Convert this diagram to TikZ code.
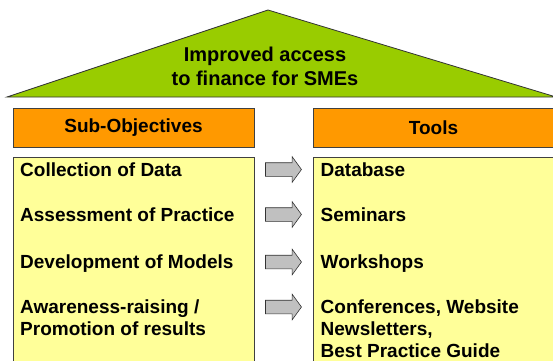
\documentclass[tikz,border=0pt]{standalone}
\usepackage{fontspec}
\setmainfont{Liberation Sans}
\usetikzlibrary{shapes.arrows}
\definecolor{roof}{HTML}{99CC00}
\definecolor{orange}{HTML}{FF9900}
\definecolor{pale}{HTML}{FFFF99}
\definecolor{grey}{HTML}{C0C0C0}

\begin{document}
\begin{tikzpicture}[x=1pt,y=1pt,font=\fontsize{19}{22}\selectfont\bfseries,
  head/.style={draw=black!75,fill=orange,line width=0.8pt,minimum width=241pt,minimum height=39pt,inner sep=0pt},
  panel/.style={draw=black!75,fill=pale,line width=0.8pt,minimum width=241pt,minimum height=210pt,inner sep=0pt},
  goes/.style={single arrow,draw=black!80,fill=grey,line width=0.6pt,minimum height=36pt,
    single arrow head extend=6pt,single arrow tip angle=108,inner sep=0pt},
  item/.style={anchor=base west,align=left,inner sep=0pt}]
\useasboundingbox (0,0) rectangle (553,360);
% roof with the main objective
\draw[fill=roof,draw=black!80,line width=0.8pt] (7,263)--(268,350)--(556,263)--cycle;
\node[align=center,font=\fontsize{20}{24}\selectfont\bfseries] (goal) at (265,294) {Improved access\\to finance for SMEs};
% the two columns
\node[head] (subhead) at (133.5,232.5) {Sub-Objectives};
\node[head] (toolhead) at (433.5,232.5) {Tools};
\node[panel,anchor=north west] (subs) at (13,203) {};
\node[panel,anchor=north west] (tools) at (313,203) {};
% one row per sub-objective (y of the last baseline on each side)
\foreach \i/\sy/\ty/\ay/\sub/\tool in {1/183.5/183.5/190.5/{Collection of Data}/{Database},
    2/138.5/138.5/145.5/{Assessment of Practice}/{Seminars},
    3/92/92/98/{Development of Models}/{Workshops},
    4/25/3/53/{Awareness-raising /\\Promotion of results}/{Conferences, Website\\Newsletters,\\Best Practice Guide}} {
  \node[item] (sub\i) at (20,\sy) {\sub};
  \node[goes] (arr\i) at (281,\ay) {\rule{0pt}{13pt}};
  \node[item] (tool\i) at (320.5,\ty) {\tool};
}
\end{tikzpicture}
\end{document}
